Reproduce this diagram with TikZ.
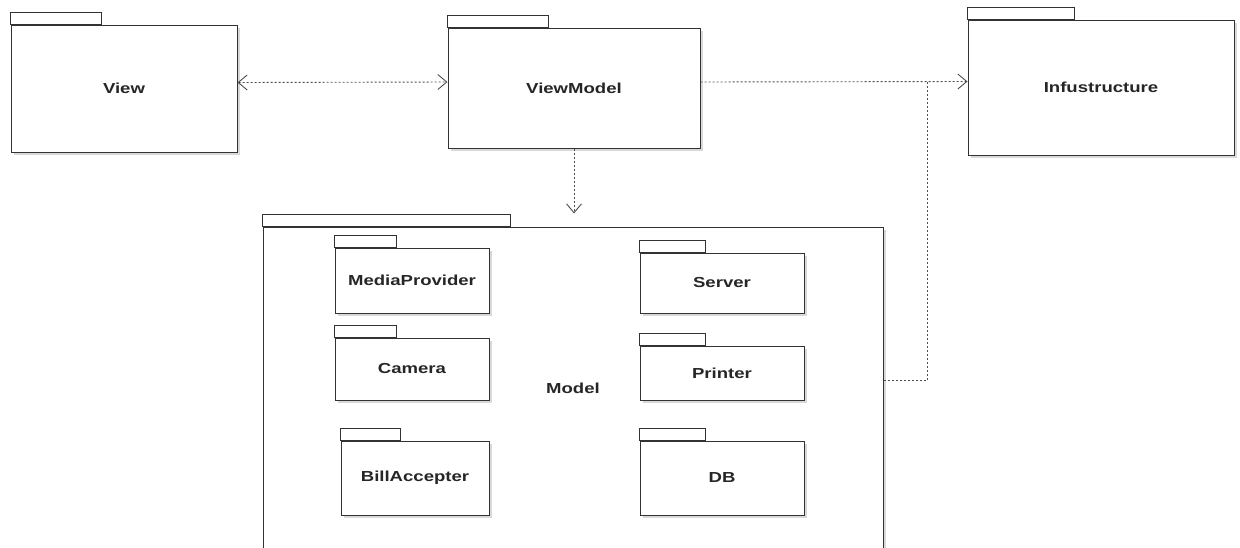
\documentclass[tikz,border=0pt]{standalone}
\usepackage{fontspec}
\setmainfont{Liberation Sans}
\newfontfamily\pkgfont[FakeStretch=1.28]{Liberation Sans}
\usetikzlibrary{arrows.meta,calc,shadows}

\tikzset{
  pkg/.style={rectangle, draw=black!80, line width=1pt, fill=white, inner sep=0pt,
    font=\pkgfont\bfseries\fontsize{14.5}{17}\selectfont, text=black!85,
    drop shadow={shadow xshift=2.5pt, shadow yshift=-2.5pt, opacity=0.3}},
  tab/.style={draw=black!80, line width=1pt, fill=white},
  dep/.style={draw=black!70, line width=0.9pt, dash pattern=on 2pt off 2pt},
  >={Straight Barb[length=9pt,width=15pt]}
}

\begin{document}
\begin{tikzpicture}[x=1pt,y=-1pt]
\useasboundingbox (0,0) rectangle (1240,547);

% top row
\node[pkg, minimum width=226pt, minimum height=127pt] (view) at (124,88.5) {View};
\node[pkg, minimum width=252pt, minimum height=120pt] (vm) at (574,88) {ViewModel};
\node[pkg, minimum width=266pt, minimum height=135pt] (infra) at (1101,87.5) {Infustructure};

% Model package
\node[pkg, minimum width=620pt, minimum height=322pt] (model) at (573,388) {Model};

% left column
\node[pkg, minimum width=154pt, minimum height=65pt] (media) at (412,280.5) {MediaProvider};
\node[pkg, minimum width=154pt, minimum height=62pt] (camera) at (412,369) {Camera};
\node[pkg, minimum width=148pt, minimum height=74pt] (bill) at (415,478) {BillAccepter};

% right column
\node[pkg, minimum width=164pt, minimum height=60pt] (server) at (722,283) {Server};
\node[pkg, minimum width=164pt, minimum height=54pt] (printer) at (722,373) {Printer};
\node[pkg, minimum width=164pt, minimum height=74pt] (db) at (722,478) {DB};

% tabs
\foreach \p in {view,vm,infra,model,media,camera,bill,server,printer,db}
  \draw[tab] (\p.north west) rectangle ($(\p.north west)!0.4!(\p.north east)+(0,-12)$);

% dependencies
\coordinate (join) at (927,82);
\draw[dep,<->] ([yshift=6pt]view.east) -- ([yshift=6pt]vm.west);
\draw[dep,->] ([yshift=6pt]vm.east) -- ([yshift=6pt]infra.west);
\draw[dep,->,shorten >=13pt] (vm.south) -- (vm.south |- model.north);
\draw[dep] ([yshift=8pt]model.east) -| (join);

\end{tikzpicture}
\end{document}
